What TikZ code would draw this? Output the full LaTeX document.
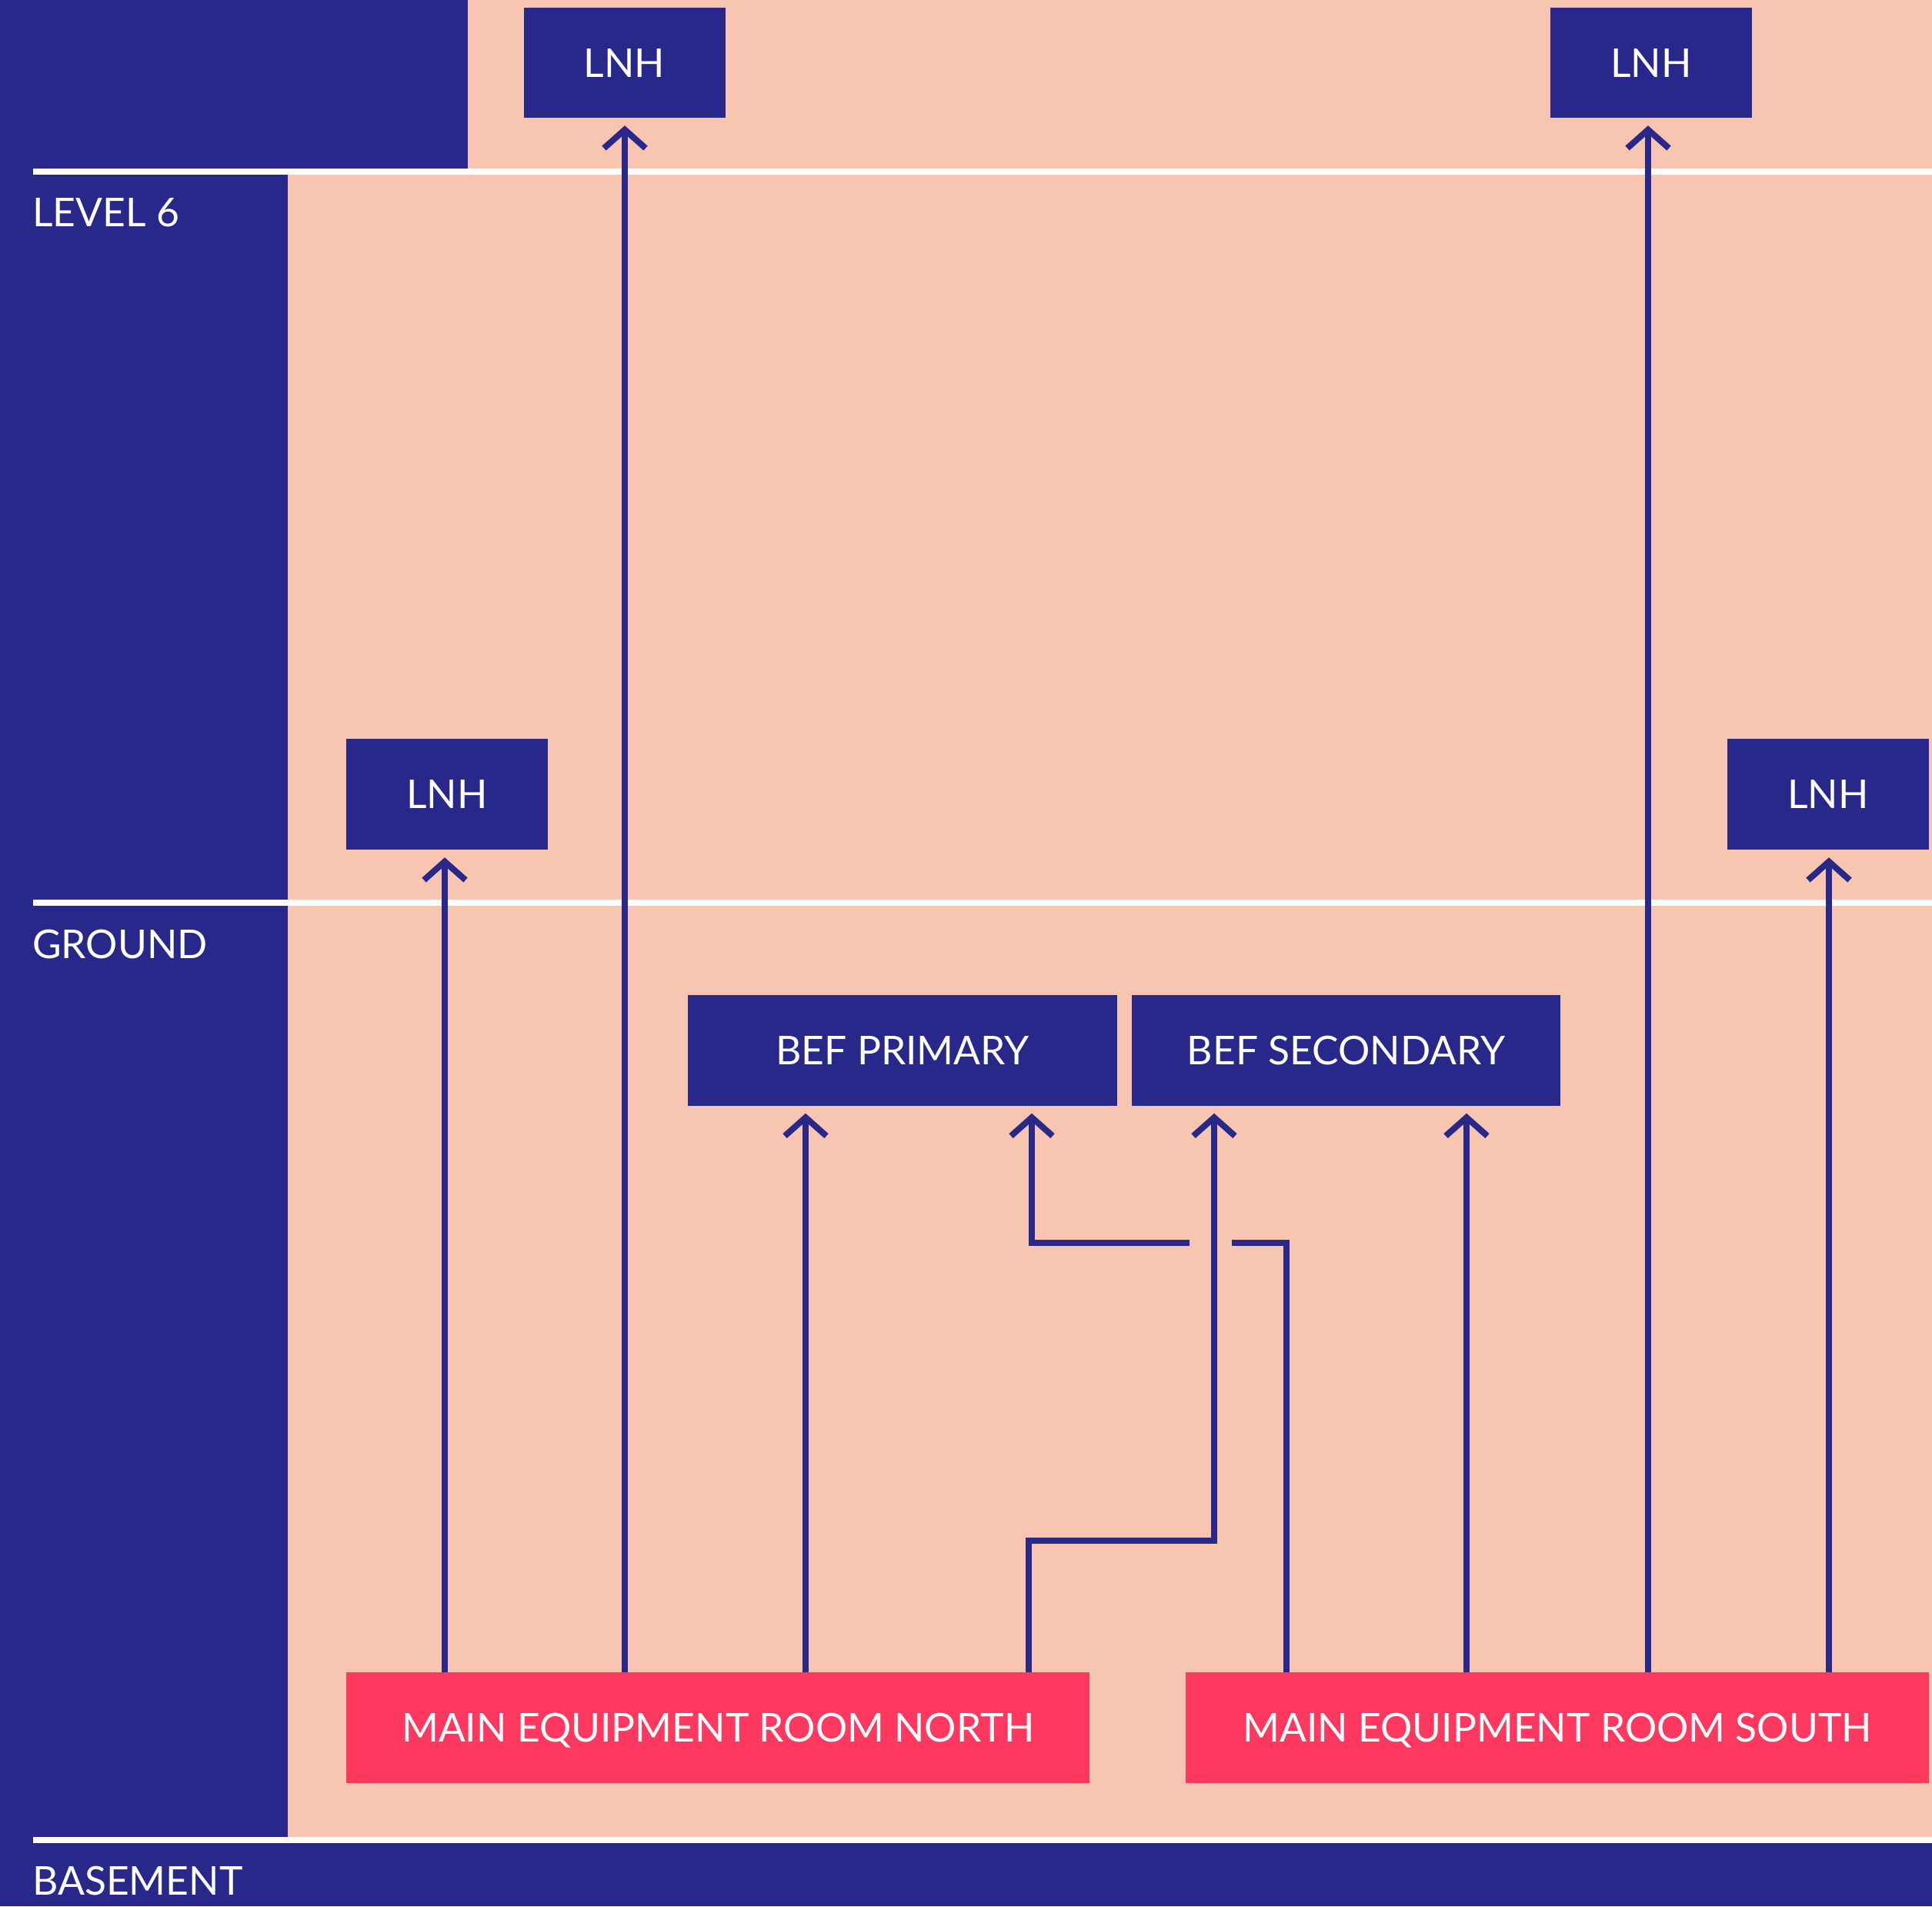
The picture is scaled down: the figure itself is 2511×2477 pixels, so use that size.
\documentclass[tikz,border=0pt]{standalone}
\usepackage{fontspec}
\setmainfont{Lato}
\usetikzlibrary{arrows.meta}
\definecolor{navy}{HTML}{28288A}
\definecolor{peach}{HTML}{F8C6B0}
\definecolor{merred}{HTML}{FF3860}
\newcommand\dgfont{\fontsize{51.6}{60}\selectfont}
\begin{document}
\begin{tikzpicture}[x=1pt,y=-1pt,
  box/.style={fill=navy, text=white, inner sep=0pt, font=\dgfont, minimum height=144pt, text height=37pt, text depth=0pt},
  lnh/.style={box, minimum width=262pt},
  bef/.style={box, minimum width=558pt},
  mer/.style={box, fill=merred, minimum width=966pt},
  floorline/.style={draw=white, line width=8pt},
  floorlabel/.style={text=white, font=\dgfont, inner sep=0pt, anchor=base west},
  link/.style={draw=navy, line width=8pt},
  arr/.style={link, shorten >=10pt, -{Straight Barb[length=24pt, width=54pt, line join=miter, line cap=butt]}}
]
% background
\fill[peach] (0,0) rectangle (2511,2477);
\useasboundingbox (0,0) rectangle (2511,2477);
\fill[navy] (0,0) rectangle (608,223);
\fill[navy] (0,0) rectangle (374,2477);
\fill[navy] (0,2391) rectangle (2511,2477);
% floor lines
\coordinate (l6a) at (43,223); \coordinate (l6b) at (2511,223);
\coordinate (gra) at (43,1173); \coordinate (grb) at (2511,1173);
\coordinate (bsa) at (43,2391); \coordinate (bsb) at (2511,2391);
\draw[floorline] (l6a) -- (l6b);
\draw[floorline] (gra) -- (grb);
\draw[floorline] (bsa) -- (bsb);
\node[floorlabel] (lvl6) at (42,294) {LEVEL 6};
\node[floorlabel] (ground) at (42,1245) {GROUND};
\node[floorlabel] (basement) at (42,2462) {BASEMENT};
% nodes
\node[lnh, minimum height=143pt] (lnhtl) at (811.5,81.5) {LNH};
\node[lnh, minimum height=143pt] (lnhtr) at (2146,81.5) {LNH};
\node[lnh] (lnhml) at (581,1032) {LNH};
\node[lnh] (lnhmr) at (2376,1032) {LNH};
\node[bef] (befp) at (1173,1364.5) {BEF PRIMARY};
\node[bef, minimum width=557pt] (befs) at (1749.5,1364.5) {BEF SECONDARY};
\node[mer] (mern) at (933,2245) {MAIN EQUIPMENT ROOM NORTH};
\node[mer] (mers) at (2024,2245) {MAIN EQUIPMENT ROOM SOUTH};
% column coordinates
\coordinate (xa) at (578,0);
\coordinate (xb) at (812,0);
\coordinate (xc) at (1047,0);
\coordinate (xd) at (1337,0);
\coordinate (xe) at (1341,0);
\coordinate (xf) at (1578,0);
\coordinate (xg) at (1672,0);
\coordinate (xh) at (1906,0);
\coordinate (xi) at (2142,0);
\coordinate (xj) at (2377,0);
\coordinate (kinkN) at (1578,2002);
\coordinate (gapR) at (1601,1615);
\coordinate (gapL) at (1546,1615);
% connectors
\draw[arr] (mern.north -| xa) -- (lnhml.south -| xa);
\draw[arr] (mern.north -| xb) -- (lnhtl.south -| xb);
\draw[arr] (mern.north -| xc) -- (befp.south -| xc);
\draw[arr] (mern.north -| xd) |- (kinkN) -- (befs.south -| kinkN);
\draw[link] (mers.north -| xg) |- (gapR);
\draw[arr] (gapL) -| (befp.south -| xe);
\draw[arr] (mers.north -| xh) -- (befs.south -| xh);
\draw[arr] (mers.north -| xi) -- (lnhtr.south -| xi);
\draw[arr] (mers.north -| xj) -- (lnhmr.south -| xj);
\end{tikzpicture}
\end{document}
